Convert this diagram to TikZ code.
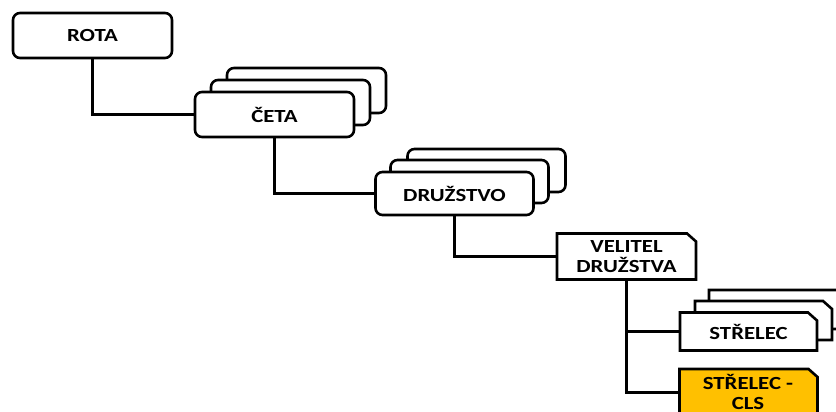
\documentclass[tikz,border=0pt]{standalone}
\usepackage{fontspec}
\setmainfont{Carlito}[FakeStretch=1.23]
\definecolor{clsgold}{RGB}{255,192,0}
\tikzset{
  x=1pt, y=-1pt,
  wire/.style={line width=2.9pt},
  lbl/.style={font=\bfseries\fontsize{18.5}{20}\selectfont, align=center, inner sep=0pt, text=black},
  rbox/.style={draw, line width=2.6pt, fill=white, rounded corners=7pt},
  cutline/.style={line width=2.6pt, line join=miter},
}
% box with the top right corner cut off: centre x, centre y, width, height, fill
\newcommand\cutshape[5]{%
  \filldraw[cutline, fill=#5] (#1,#2) ++({-#3/2},{-#4/2}) -- ++({#3-9},0) -- ++(9,8)
    -- ++(0,{#4-8}) -- ++({-#3},0) -- cycle;
}
\begin{document}
\begin{tikzpicture}
\useasboundingbox (0,0) rectangle (836,412);
\clip (0,0) rectangle (836,412);

% ROTA
\node[rbox, lbl, minimum width=159pt, minimum height=45pt] (rota) at (92.5,35.5) {ROTA};

% CETA stack
\node[rbox, minimum width=159pt, minimum height=45pt] (ceta3) at (306.5,90.5) {};
\node[rbox, minimum width=159pt, minimum height=45pt] (ceta2) at (290.5,102.5) {};
\node[rbox, lbl, minimum width=159pt, minimum height=45pt] (ceta) at (274.5,114.5) {ČETA};

% DRUZSTVO stack
\node[rbox, minimum width=158pt, minimum height=43pt] (druz3) at (486.5,170.5) {};
\node[rbox, minimum width=158pt, minimum height=43pt] (druz2) at (469.5,181.5) {};
\node[rbox, lbl, minimum width=158pt, minimum height=43pt] (druz) at (454.5,193.5) {DRUŽSTVO};

% squad leader
\cutshape{626.5}{256.5}{139}{46}{white}
\node[lbl, minimum width=139pt, minimum height=46pt] (velitel) at (626.5,256.5) {VELITEL\\DRUŽSTVA};

% riflemen stack
\cutshape{777.5}{309.5}{137}{39}{white}
\cutshape{763.5}{320.5}{137}{39}{white}
\cutshape{748.5}{331.5}{137}{38}{white}
\node[lbl, minimum width=137pt, minimum height=38pt] (strelec) at (748.5,331.5) {STŘELEC};

% rifleman - CLS
\cutshape{748.5}{392.5}{138}{47}{clsgold}
\node[minimum width=138pt, minimum height=47pt, inner sep=0pt] (cls) at (748.5,392.5) {};
\node[lbl, anchor=base] (clstext) at (748,409) {STŘELEC -\\CLS};

% connectors
\draw[wire] (rota.south) |- (ceta.west);
\draw[wire] (ceta.south) |- (druz.west);
\draw[wire] (druz.south) |- (velitel.west);
\draw[wire] (velitel.south) |- (cls.west);
\draw[wire] (velitel.south) |- (strelec.west);
\end{tikzpicture}
\end{document}
